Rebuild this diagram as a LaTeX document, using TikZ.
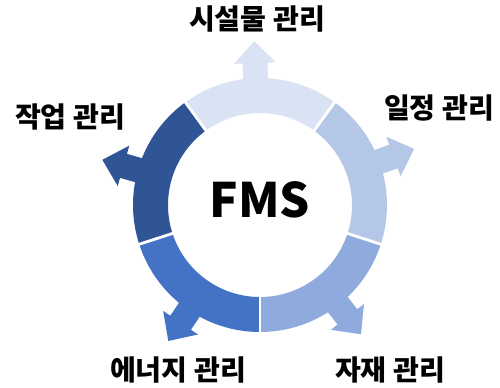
\documentclass[tikz,border=0pt]{standalone}
\usepackage{fontspec}
\setmainfont{Noto Sans CJK KR}
\definecolor{fmsA}{HTML}{DAE3F3}
\definecolor{fmsB}{HTML}{B4C7E7}
\definecolor{fmsC}{HTML}{8FAADC}
\definecolor{fmsD}{HTML}{4472C4}
\definecolor{fmsE}{HTML}{2F5597}
\tikzset{lbl/.style={font=\fontsize{16}{18}\selectfont\bfseries}}
\begin{document}
\begin{tikzpicture}[x=0.02cm,y=0.02cm]
			\useasboundingbox (0,0) rectangle (500,387);
			\coordinate (c) at (260,182);
			\foreach \a/\col in {90/fmsA,18/fmsB,-54/fmsC,-126/fmsD,-198/fmsE}{
				\fill[\col,shift={(c)}] (\a-36:127) arc[start angle=\a-36,end angle=\a+36,radius=127] -- (\a+36:92) arc[start angle=\a+36,end angle=\a-36,radius=92] -- cycle;
				\fill[\col,shift={(c)},rotate=\a+2] (110,-12.5) -- (142,-12.5) -- (142,-21) -- (164,0) -- (142,21) -- (142,12.5) -- (110,12.5) -- cycle;
			}
			\foreach \g in {54,126,198,270,342}
				\draw[white,line width=1.6pt,shift={(c)}] (\g:90) -- (\g:130);
			\node[font=\fontsize{27}{30}\selectfont\bfseries] (fms) at (260,187) {FMS};
			\node[lbl] (sisul) at (257,368) {시설물 관리};
			\node[lbl] (iljeong) at (439,279) {일정 관리};
			\node[lbl] (jakeop) at (70,270) {작업 관리};
			\node[lbl] (energy) at (178,17) {에너지 관리};
			\node[lbl] (jajae) at (390,17) {자재 관리};
\end{tikzpicture}
\end{document}
